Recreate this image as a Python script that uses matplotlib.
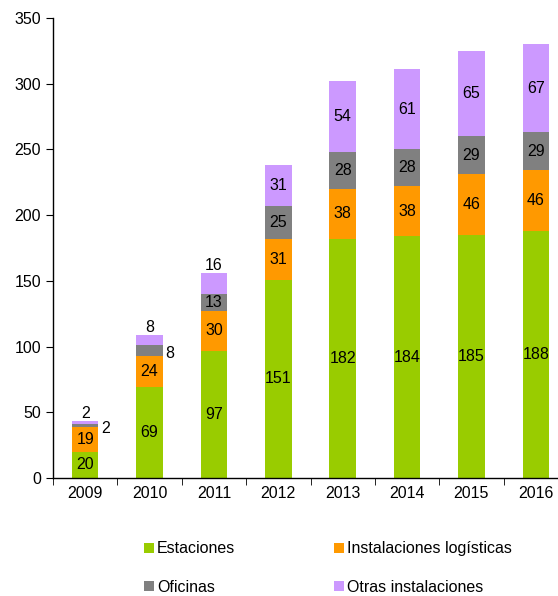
import matplotlib
matplotlib.use("Agg")
import matplotlib.pyplot as plt
import numpy as np

years = ["2009", "2010", "2011", "2012", "2013", "2014", "2015", "2016"]
estaciones = [20, 69, 97, 151, 182, 184, 185, 188]
logisticas = [19, 24, 30, 31, 38, 38, 46, 46]
oficinas = [2, 8, 13, 25, 28, 28, 29, 29]
otras = [2, 8, 16, 31, 54, 61, 65, 67]

series = [
    ("Estaciones", estaciones, "#99CC00"),
    ("Instalaciones logísticas", logisticas, "#FF9900"),
    ("Oficinas", oficinas, "#808080"),
    ("Otras instalaciones", otras, "#CC99FF"),
]

plt.rcParams['font.family'] = ['Liberation Sans', 'DejaVu Sans']
FS = 11.5

fig = plt.figure(figsize=(5.58, 5.96), dpi=100)
ax = fig.add_axes([53/558, 118/596, 515/558, 460/596])

x = np.arange(len(years))
width = 0.41
bottom = np.zeros(len(years))
handles = []
for si, (name, vals, color) in enumerate(series):
    vals = np.array(vals, dtype=float)
    b = ax.bar(x, vals, width, bottom=bottom, color=color, label=name, linewidth=0)
    handles.append(b)
    for i, v in enumerate(vals):
        mid = bottom[i] + v / 2
        top = bottom[i] + v
        if si == 3 and v < 20:
            ax.annotate(f"{int(v)}", (x[i], top), xytext=(0, 0), textcoords="offset points",
                        ha="center", va="bottom", fontsize=FS)
        elif v >= 10:
            ax.text(x[i], mid, f"{int(v)}", ha="center", va="center", fontsize=FS)
        else:
            ax.annotate(f"{int(v)}", (x[i] + width / 2, mid), xytext=(2, -2), textcoords="offset points",
                        ha="left", va="center", fontsize=FS)
    bottom += vals

ax.set_xlim(-0.5, len(years) - 0.5)
ax.set_ylim(0, 350)
ax.set_yticks(np.arange(0, 351, 50))
ax.set_xticks(x)
ax.set_xticklabels(years)
ax.set_xticks(np.arange(-0.5, len(years), 1), minor=True)
ax.tick_params(axis="x", which="major", length=0, labelsize=FS, pad=6)
ax.tick_params(axis="x", which="minor", length=5, direction="out")
ax.tick_params(axis="y", length=5, direction="out", labelsize=FS)
for s in ["top", "right"]:
    ax.spines[s].set_visible(False)
ax.spines["left"].set_linewidth(1.0)
ax.spines["bottom"].set_linewidth(1.0)

order = [0, 2, 1, 3]
fig.legend(handles=[handles[k] for k in order], labels=[series[k][0] for k in order], ncol=2,
           loc="upper left", bbox_to_anchor=(130/558, 1 - 527/596),
           frameon=False, fontsize=FS, handlelength=0.6, handleheight=0.6,
           handletextpad=0.2, columnspacing=6.2, labelspacing=1.45)

fig.savefig("out.png", dpi=100)
